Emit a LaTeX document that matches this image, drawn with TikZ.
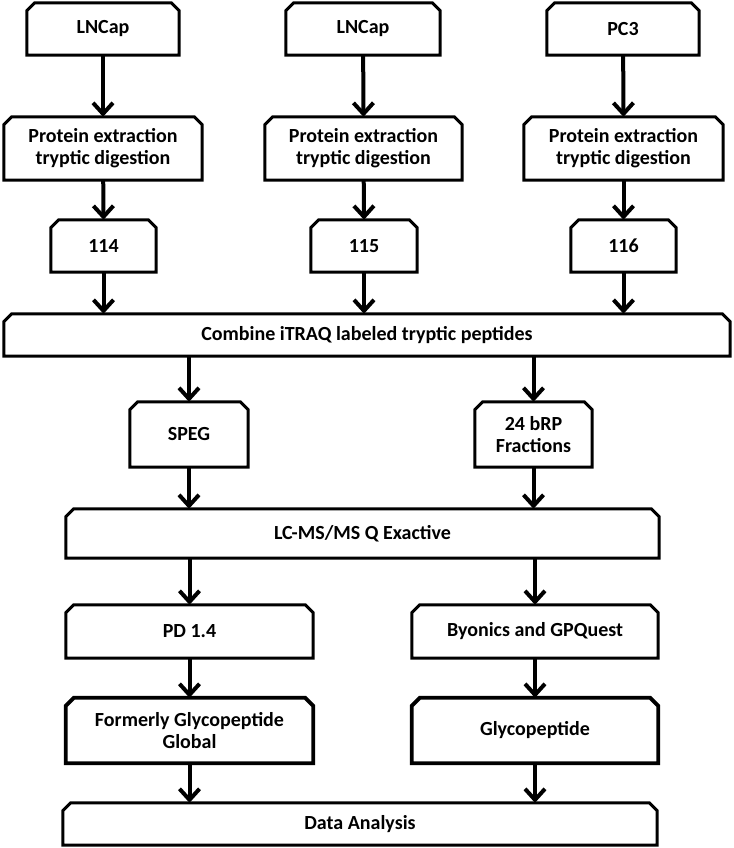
\documentclass[tikz,border=0pt]{standalone}
\usepackage{fontspec}
\setmainfont{Carlito}
\usetikzlibrary{arrows.meta}
\begin{document}
\begin{tikzpicture}[x=1pt,y=-1pt,
  box/.style={inner sep=0pt, align=center, font=\bfseries\fontsize{20}{22}\selectfont},
  outline/.style={line width=3pt, line join=miter},
  arr/.style={line width=4pt, -{Straight Barb[length=11pt,width=20pt]}}]
\useasboundingbox (0,0) rectangle (733,848);
\newcommand\bx[6]{\node[box, minimum width={(#3-#2)*1pt}, minimum height={(#5-#4)*1pt}] (#1) at ({(#2+#3)/2},{(#4+#5)/2}) {#6};}
\bx{la}{27}{179}{3}{55}{LNCap}
\bx{lb}{286}{440}{3}{55}{LNCap}
\bx{lc}{547}{699}{3}{55}{PC3}
\bx{pa}{4}{202}{117}{180}{Protein extraction\\tryptic digestion}
\bx{pb}{265}{462}{117}{180}{Protein extraction\\tryptic digestion}
\bx{pc}{524}{723}{117}{180}{Protein extraction\\tryptic digestion}
\bx{na}{51}{156}{220}{272}{114}
\bx{nb}{311}{417}{220}{272}{115}
\bx{nc}{571}{676}{220}{272}{116}
\bx{comb}{4}{730}{314}{356}{Combine iTRAQ labeled tryptic peptides}
\bx{speg}{130}{248}{402}{467}{SPEG}
\bx{brp}{475}{592}{402}{467}{24 bRP\\Fractions}
\bx{lcms}{66}{659}{509}{558}{LC-MS/MS Q Exactive}
\bx{pd}{66}{313}{605}{658}{PD 1.4}
\bx{byo}{412}{658}{605}{658}{Byonics and GPQuest}
\bx{form}{66}{313}{698}{763}{Formerly Glycopeptide\\Global}
\bx{glyc}{412}{658}{698}{763}{Glycopeptide}
\bx{data}{63}{657}{803}{845}{Data Analysis}
\foreach \n in {la,lb,lc,pa,pb,pc,na,nb,nc,comb,speg,brp,lcms,pd,byo,data}
  \draw[outline] (\n.south west) -- ([yshift=-8pt]\n.north west) -- ([xshift=8pt]\n.north west)
    -- ([xshift=-8pt]\n.north east) -- ([yshift=-8pt]\n.north east) -- (\n.south east) -- cycle;
\foreach \n in {form,glyc}
  \draw[outline,line width=3.8pt] (\n.south west) -- ([yshift=-8pt]\n.north west) -- ([xshift=8pt]\n.north west)
    -- ([xshift=-8pt]\n.north east) -- ([yshift=-8pt]\n.north east) -- (\n.south east) -- cycle;
\draw[arr] (la) -- (pa.north);
\draw[arr] (lb) -- (pb.north);
\draw[arr] (lc) -- (pc.north);
\draw[arr] (pa) -- (na.north);
\draw[arr] (pb) -- (nb.north);
\draw[arr] (pc) -- (nc.north);
\draw[arr] (na.south) -- (na.south |- comb.north);
\draw[arr] (nb.south) -- (nb.south |- comb.north);
\draw[arr] (nc.south) -- (nc.south |- comb.north);
\draw[arr] (comb.south -| speg.north) -- (speg.north);
\draw[arr] (comb.south -| brp.north) -- (brp.north);
\draw[arr] (speg.south) -- (speg.south |- lcms.north);
\draw[arr] (brp.south) -- (brp.south |- lcms.north);
\draw[arr] (lcms.south -| pd.north) -- (pd.north);
\draw[arr] (lcms.south -| byo.north) -- (byo.north);
\draw[arr] (pd) -- (form.north);
\draw[arr] (byo) -- (glyc.north);
\draw[arr] (form.south) -- (form.south |- data.north);
\draw[arr] (glyc.south) -- (glyc.south |- data.north);
\end{tikzpicture}
\end{document}
